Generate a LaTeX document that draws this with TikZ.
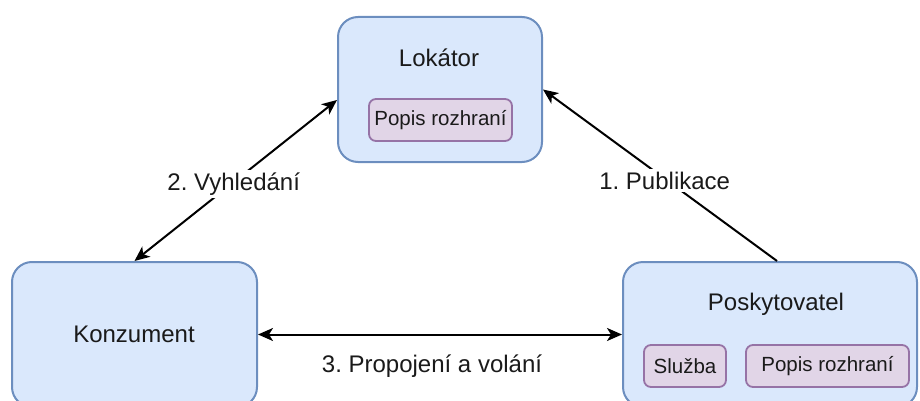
\documentclass[tikz,border=0pt]{standalone}
\usepackage{fontspec}
\setmainfont{Liberation Sans}
\usetikzlibrary{arrows.meta,calc}
\definecolor{bfill}{HTML}{DAE8FC}
\definecolor{bdraw}{HTML}{6C8EBF}
\definecolor{pfill}{HTML}{E1D5E7}
\definecolor{pdraw}{HTML}{9673A6}
\definecolor{txt}{HTML}{1A1A1A}
\tikzset{
  bigbox/.style={draw=bdraw,fill=bfill,line width=2pt,rounded corners=20pt,inner sep=0pt,minimum height=145pt},
  subbox/.style={draw=pdraw,fill=pfill,line width=1.8pt,rounded corners=7pt,inner sep=0pt,minimum height=42pt,text=txt,font=\fontsize{20.5}{24}\selectfont},
  bigtxt/.style={text=txt,font=\fontsize{24}{28}\selectfont,inner sep=0pt},
  lbl/.style={text=txt,font=\fontsize{24}{28}\selectfont,fill=white,inner sep=3pt},
  conn/.style={line width=2pt,black},
  tip/.style={-{Stealth[length=15pt,width=13pt,inset=4pt]}},
  dtip/.style={{Stealth[length=15pt,width=13pt,inset=4pt]}-{Stealth[length=15pt,width=13pt,inset=4pt]}}
}
\frenchspacing
\begin{document}
\begin{tikzpicture}[x=1pt,y=-1pt]
\useasboundingbox (0,0) rectangle (920,401);
\clip (0,0) rectangle (920,401);
% boxes
\node[bigbox,minimum width=204pt] (lok) at (440,89.5) {};
\node[bigtxt] (lokt) at (439,58) {Lokátor};
\node[subbox,minimum width=143pt] (lokp) at (440.5,120) {Popis rozhraní};

\node[bigbox,minimum width=245pt] (konz) at (134.5,334.5) {};
\node[bigtxt] (konzt) at (134,334) {Konzument};

\node[bigbox,minimum width=294pt] (posk) at (770,334.5) {};
\node[bigtxt] (poskt) at (776,304) {Poskytovatel};
\node[subbox,minimum width=82pt] (sluz) at (685,366) {Služba};
\node[subbox,minimum width=163pt] (poskp) at (827.5,366) {Popis rozhraní};

% connectors
\draw[conn,dtip] (konz.north) -- node[lbl,pos=0.49,yshift=-2pt] (l2) {2. Vyhledání} ([yshift=-10.5pt]lok.west);
\draw[conn,tip] ([xshift=7pt]posk.north) -- node[lbl,pos=0.48,yshift=-2pt] (l1) {1. Publikace} (lok.east);
\draw[conn,dtip] (konz.east) -- (posk.west);
\node[text=txt,font=\fontsize{24}{28}\selectfont,inner sep=0pt] (l3) at (432,366) {3. Propojení a volání};
\end{tikzpicture}
\end{document}
